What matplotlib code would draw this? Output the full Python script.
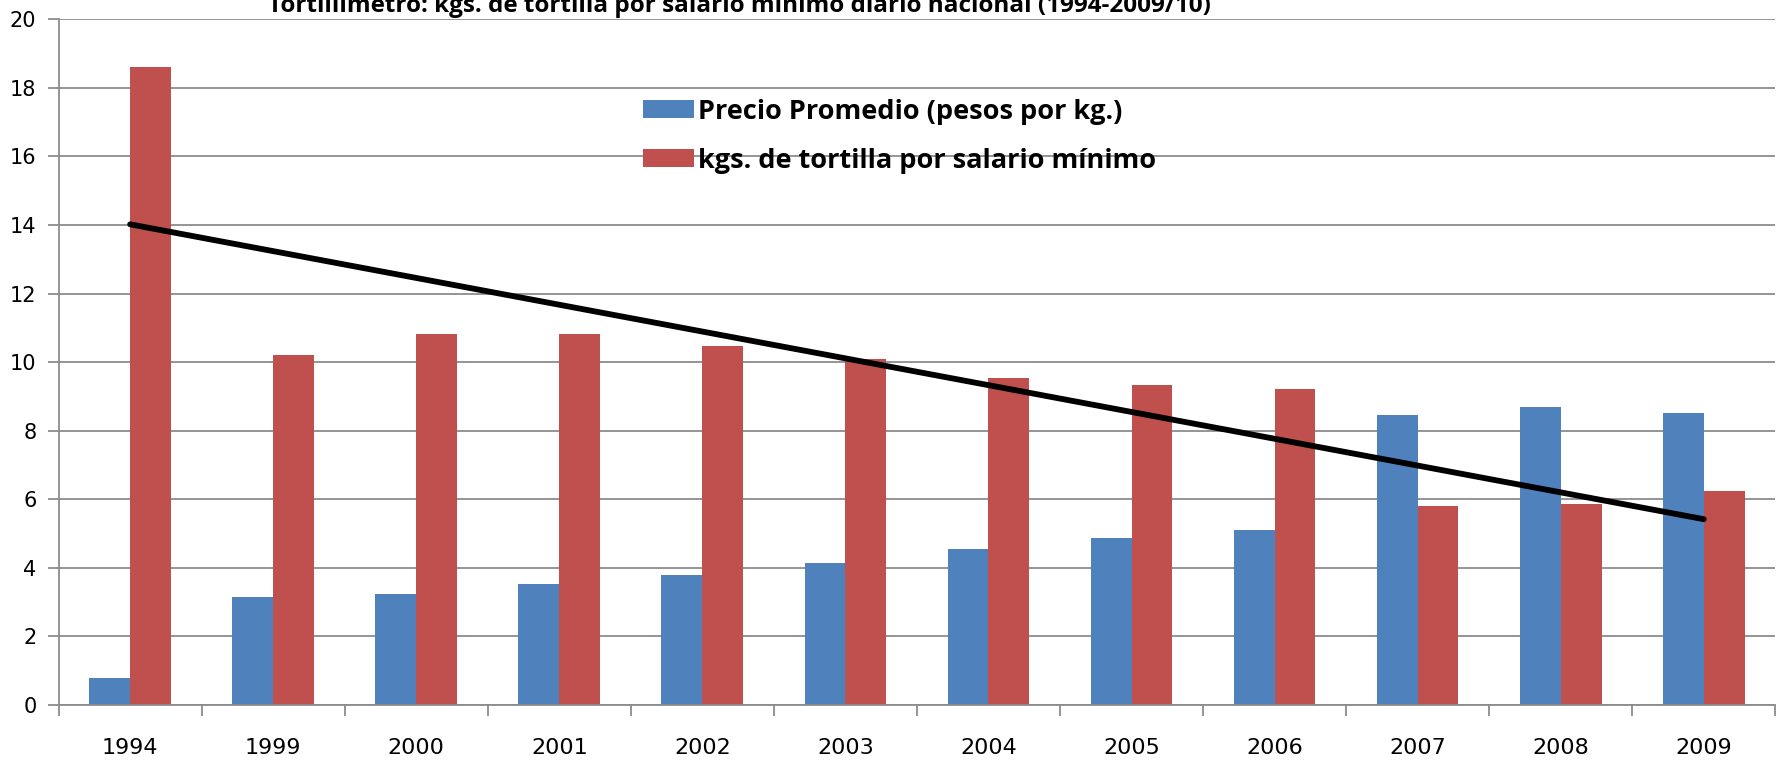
import matplotlib.pyplot as plt
import numpy as np

years = ['1994', '1999', '2000', '2001', '2002', '2003',
         '2004', '2005', '2006', '2007', '2008', '2009']
precio = [0.79, 3.14, 3.24, 3.54, 3.80, 4.13, 4.56, 4.86, 5.09, 8.46, 8.69, 8.53]
kgs = [18.6, 10.21, 10.81, 10.81, 10.48, 10.08, 9.55, 9.32, 9.22, 5.79, 5.85, 6.25]
# black line drawn from first to last year
line_years = ['1994', '2009']
line_values = [14.02, 5.42]

title = 'Tortillímetro: kgs. de tortilla por salario mínimo diario nacional (1994-2009/10)'

fig = plt.figure(figsize=(17.77, 7.61), dpi=100)
ax = fig.add_axes([0.033, 0.0736, 0.966, 0.901])

x = np.arange(len(years))
w = 1 / 3.5
ax.bar(x - w / 2, precio, w, color='#4F81BD', label='Precio Promedio (pesos por kg.)', zorder=2)
ax.bar(x + w / 2, kgs, w, color='#C0504D', label='kgs. de tortilla por salario mínimo', zorder=2)

lx = [years.index(y) for y in line_years]
ax.plot(lx, line_values, color='black', lw=4.2, solid_capstyle='round', zorder=3)

ax.set_xlim(-0.5, len(years) - 0.5)
ax.set_ylim(0, 20)
ax.set_yticks(np.arange(0, 21, 2))
ax.yaxis.grid(True, color='#8c8c8c', lw=1.3, zorder=0)
ax.set_axisbelow(True)

ax.set_xticks(x)
ax.set_xticklabels(years)
ax.set_xticks(np.arange(-0.5, len(years), 1), minor=True)
ax.tick_params(axis='x', which='major', length=0, pad=24, labelsize=16)
ax.tick_params(axis='x', which='minor', length=8, color='#8c8c8c', width=1.3)
ax.tick_params(axis='y', length=8, color='#8c8c8c', width=1.3, labelsize=15, pad=8)

for s in ['top', 'right']:
    ax.spines[s].set_visible(False)
for s in ['left', 'bottom']:
    ax.spines[s].set_color('#8c8c8c')
    ax.spines[s].set_linewidth(1.3)

fig.text(0.416, 0.992, title, ha='center', va='center', fontsize=17.5,
         fontweight='bold', family='Open Sans')

ax.legend(loc='upper left', bbox_to_anchor=(0.326, 0.92), frameon=False,
          prop={'family': 'Open Sans', 'weight': 'bold', 'size': 19.5},
          handlelength=1.9, handleheight=0.65, handletextpad=0.15, labelspacing=0.85)

fig.savefig('out.png', dpi=100)
